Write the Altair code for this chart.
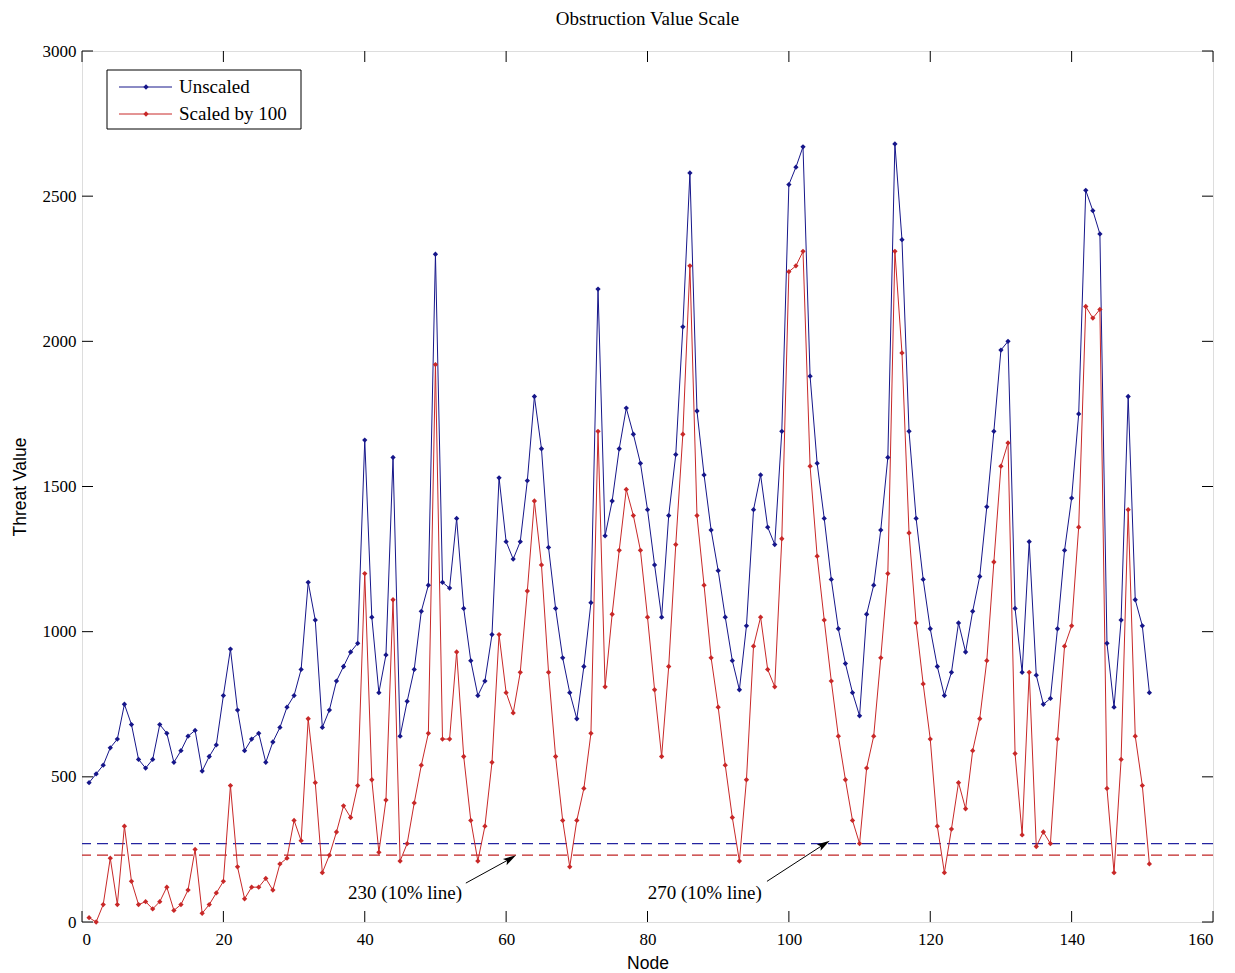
import altair as alt
import pandas as pd

nodes = list(range(1, 152))
unscaled = [480, 510, 540, 600, 630, 750, 680, 560, 530, 560,
            680, 650, 550, 590, 640, 660, 520, 570, 610, 780,
            940, 730, 590, 630, 650, 550, 620, 670, 740, 780,
            870, 1170, 1040, 670, 730, 830, 880, 930, 960, 1660,
            1050, 790, 920, 1600, 640, 760, 870, 1070, 1160, 2300,
            1170, 1150, 1390, 1080, 900, 780, 830, 990, 1530, 1310,
            1250, 1310, 1520, 1810, 1630, 1290, 1080, 910, 790, 700,
            880, 1100, 2180, 1330, 1450, 1630, 1770, 1680, 1580, 1420,
            1230, 1050, 1400, 1610, 2050, 2580, 1760, 1540, 1350, 1210,
            1050, 900, 800, 1020, 1420, 1540, 1360, 1300, 1690, 2540,
            2600, 2670, 1880, 1580, 1390, 1180, 1010, 890, 790, 710,
            1060, 1160, 1350, 1600, 2680, 2350, 1690, 1390, 1180, 1010,
            880, 780, 860, 1030, 930, 1070, 1190, 1430, 1690, 1970,
            2000, 1080, 860, 1310, 850, 750, 770, 1010, 1280, 1460,
            1750, 2520, 2450, 2370, 960, 740, 1040, 1810, 1110, 1020,
            790]
scaled = [15, 0, 60, 220, 60, 330, 140, 60, 70, 45,
          70, 120, 40, 60, 110, 250, 30, 60, 100, 140,
          470, 190, 80, 120, 120, 150, 110, 200, 220, 350,
          280, 700, 480, 170, 230, 310, 400, 360, 470, 1200,
          490, 240, 420, 1110, 210, 270, 410, 540, 650, 1920,
          630, 630, 930, 570, 350, 210, 330, 550, 990, 790,
          720, 860, 1140, 1450, 1230, 860, 570, 350, 190, 350,
          460, 650, 1690, 810, 1060, 1280, 1490, 1400, 1280, 1050,
          800, 570, 880, 1300, 1680, 2260, 1400, 1160, 910, 740,
          540, 360, 210, 490, 950, 1050, 870, 810, 1320, 2240,
          2260, 2310, 1570, 1260, 1040, 830, 640, 490, 350, 270,
          530, 640, 910, 1200, 2310, 1960, 1340, 1030, 820, 630,
          330, 170, 320, 480, 390, 590, 700, 900, 1240, 1570,
          1650, 580, 300, 860, 260, 310, 270, 630, 950, 1020,
          1360, 2120, 2080, 2110, 460, 170, 560, 1420, 640, 470,
          200]

series_names = ["Unscaled", "Scaled by 100"]
series_colors = ["#16168a", "#c82828"]
ten_pct_lines = [270, 230]
ten_pct_colors = ["#2424a0", "#c02424"]

x_ticks = [0, 20, 40, 60, 80, 100, 120, 140, 160]
y_ticks = [0, 500, 1000, 1500, 2000, 2500, 3000]

# annotations: label text, label position, arrow start/end (data units)
ann_text = ["230 (10% line)", "270 (10% line)"]
ann_x = [45.7, 88.1]
ann_y = [100, 100]
arrow_x1 = [54.3, 96.9]
arrow_y1 = [134, 140]
arrow_x2 = [60.6, 105.0]
arrow_y2 = [218, 268]
arrow_angle = [59, 58]

W, H = 1131, 871
FONT_SERIF = "Liberation Serif"
FONT_SANS = "Liberation Sans"

df = pd.DataFrame({
    "node": nodes * 2,
    "value": unscaled + scaled,
    "series": [series_names[0]] * len(nodes) + [series_names[1]] * len(nodes),
})

xs = alt.Scale(domain=[0, 160], nice=False, zero=False)
ys = alt.Scale(domain=[0, 3000], nice=False)
color = alt.Color("series:N", scale=alt.Scale(domain=series_names, range=series_colors), legend=None)

x_enc = alt.X("node:Q", scale=xs, title="Node",
              axis=alt.Axis(values=x_ticks, ticks=False, domain=False, grid=False, format="d",
                            labelFont=FONT_SERIF, labelFontSize=17, labelColor="black",
                            labelPadding=9, titleFont=FONT_SANS, titleFontSize=17.5,
                            titleFontWeight="normal", titleColor="black", titlePadding=7))
y_enc = alt.Y("value:Q", scale=ys, title="Threat Value",
              axis=alt.Axis(values=y_ticks, ticks=False, domain=False, grid=False, format="d",
                            labelFont=FONT_SERIF, labelFontSize=17, labelColor="black",
                            labelPadding=6, titleFont=FONT_SANS, titleFontSize=17.5,
                            titleFontWeight="normal", titleColor="black", titlePadding=13))

lines = alt.Chart(df).mark_line(strokeWidth=1).encode(x=x_enc, y=y_enc, color=color, detail="series:N")
points = alt.Chart(df).mark_point(shape="diamond", filled=True, size=28, opacity=1).encode(
    x="node:Q", y="value:Q", color=color)

ref_df = pd.DataFrame({"y": ten_pct_lines, "c": ten_pct_colors})
refs = alt.Chart(ref_df).mark_rule(strokeDash=[11, 6], strokeWidth=1.2).encode(
    y="y:Q", color=alt.Color("c:N", scale=None))

# inside ticks (MATLAB style box)
xt = pd.DataFrame({"t": x_ticks})
yt = pd.DataFrame({"t": y_ticks})
TL = 11
tick_b = alt.Chart(xt).mark_rule(color="black", strokeWidth=1).encode(x="t:Q", y=alt.value(H), y2=alt.value(H - TL))
tick_t = alt.Chart(xt).mark_rule(color="black", strokeWidth=1).encode(x="t:Q", y=alt.value(0), y2=alt.value(TL))
tick_l = alt.Chart(yt).mark_rule(color="black", strokeWidth=1).encode(y="t:Q", x=alt.value(0), x2=alt.value(TL))
tick_r = alt.Chart(yt).mark_rule(color="black", strokeWidth=1).encode(y="t:Q", x=alt.value(W - TL), x2=alt.value(W))

ann_df = pd.DataFrame({"text": ann_text, "x": ann_x, "y": ann_y,
                       "x1": arrow_x1, "y1": arrow_y1, "x2": arrow_x2, "y2": arrow_y2,
                       "ang": arrow_angle})
ann_txt = alt.Chart(ann_df).mark_text(font=FONT_SERIF, fontSize=19, color="black", baseline="middle").encode(
    x="x:Q", y="y:Q", text="text:N")
ann_line = alt.Chart(ann_df).mark_rule(color="black", strokeWidth=1).encode(
    x="x1:Q", y="y1:Q", x2="x2:Q", y2="y2:Q")
ann_head = alt.Chart(ann_df).mark_point(shape="M0,-1L0.55,1L0,0.6L-0.55,1Z", filled=True, size=170,
                                        color="black", opacity=1).encode(
    x="x2:Q", y="y2:Q", angle=alt.Angle("ang:Q", scale=None))

# legend box
leg_box = alt.Chart(pd.DataFrame({"a": [0]})).mark_rect(fill="white", stroke="black", strokeWidth=1).encode(
    x=alt.value(25), x2=alt.value(219), y=alt.value(19), y2=alt.value(78))
leg_layers = [leg_box]
for i, (name, col) in enumerate(zip(series_names, series_colors)):
    yy = 36 + i * 27
    d = pd.DataFrame({"name": [name]})
    leg_layers.append(alt.Chart(d).mark_rule(color=col, strokeWidth=1).encode(
        x=alt.value(37), x2=alt.value(90), y=alt.value(yy)))
    leg_layers.append(alt.Chart(d).mark_point(shape="diamond", filled=True, size=28, color=col, opacity=1).encode(
        x=alt.value(64), y=alt.value(yy)))
    leg_layers.append(alt.Chart(d).mark_text(align="left", baseline="middle", font=FONT_SERIF, fontSize=19,
                                             color="black").encode(
        x=alt.value(97), y=alt.value(yy), text="name:N"))

chart = alt.layer(
    refs, lines, points, tick_b, tick_t, tick_l, tick_r, ann_line, ann_head, ann_txt, *leg_layers
).properties(
    width=W, height=H,
    title=alt.TitleParams("Obstruction Value Scale", font=FONT_SERIF, fontSize=19,
                          fontWeight="normal", color="black", offset=13),
    padding={"left": 3, "top": 2, "right": 0, "bottom": 0},
).configure_view(stroke="black", strokeWidth=1).configure(background="white")

chart.save("out.html", embed_options={"renderer": "svg", "actions": False})
